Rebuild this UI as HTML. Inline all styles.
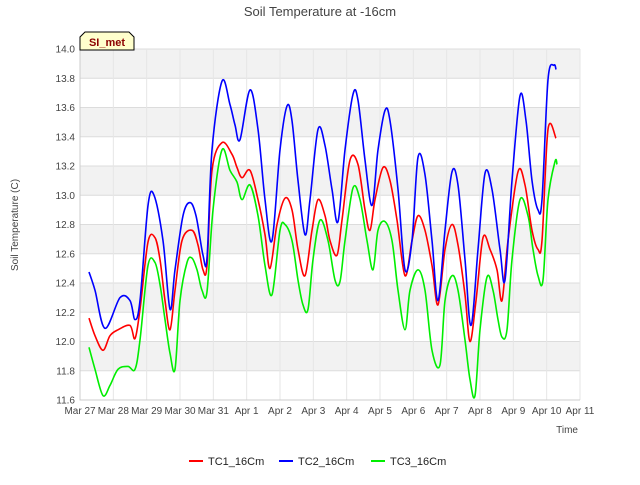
<!DOCTYPE html>
<html><head><meta charset="utf-8"><style>
body{margin:0;background:#fff;font-family:"Liberation Sans",sans-serif}
svg text{font-family:"Liberation Sans",sans-serif}
</style></head><body>
<svg id="c" width="640" height="480" xmlns="http://www.w3.org/2000/svg">
<rect width="640" height="480" fill="#fff"/>
<g id="bands"></g><g id="grid"></g><g id="ticks"></g><g id="series"></g>
<text x="320" y="16" text-anchor="middle" font-size="13" fill="#444">Soil Temperature at -16cm</text>
<text x="18" y="225" text-anchor="middle" font-size="10" fill="#444" transform="rotate(-90 18 225)">Soil Temperature (C)</text>
<text x="578" y="433" text-anchor="end" font-size="10" fill="#444">Time</text>
<g>
<path d="M80,50 L80,37 L85,32 L129,32 L134,37 L134,50 Z" fill="#ffffcc" stroke="#000" stroke-width="1"/>
<text x="107" y="46" text-anchor="middle" font-size="11" font-weight="bold" fill="#8b0000">SI_met</text>
</g>
<g>
<g><line x1="189" y1="461" x2="203" y2="461" stroke="#ff0000" stroke-width="2"/><text x="208" y="465" font-size="11" fill="#222">TC1_16Cm</text></g>
<g><line x1="279" y1="461" x2="293" y2="461" stroke="#0000ff" stroke-width="2"/><text x="298" y="465" font-size="11" fill="#222">TC2_16Cm</text></g>
<g><line x1="371" y1="461" x2="385" y2="461" stroke="#00ee00" stroke-width="2"/><text x="390" y="465" font-size="11" fill="#222">TC3_16Cm</text></g>
</g>
</svg>
<script>
const xTickLabels=["Mar 27","Mar 28","Mar 29","Mar 30","Mar 31","Apr 1","Apr 2","Apr 3","Apr 4","Apr 5","Apr 6","Apr 7","Apr 8","Apr 9","Apr 10","Apr 11"];
const yTicks=[11.6,11.8,12.0,12.2,12.4,12.6,12.8,13.0,13.2,13.4,13.6,13.8,14.0];
const tc2Days=[.27,.45,.75,1.2,1.5,1.65,1.8,2.04,2.22,2.49,2.7,2.85,3.09,3.3,3.48,3.69,3.81,3.96,4.26,4.5,4.65,4.8,5.1,5.34,5.55,5.76,6.0,6.21,6.36,6.54,6.75,6.9,7.14,7.35,7.56,7.74,7.95,8.19,8.34,8.55,8.76,8.94,9.15,9.3,9.54,9.75,9.96,10.14,10.35,10.56,10.74,10.95,11.16,11.34,11.55,11.73,11.94,12.15,12.36,12.6,12.75,12.96,13.2,13.38,13.56,13.74,13.86,14.04,14.22,14.28];
const tc2Vals=[12.475,12.35,12.09,12.30,12.28,12.15,12.28,12.93,13.0,12.69,12.22,12.49,12.86,12.95,12.86,12.59,12.57,13.31,13.78,13.62,13.48,13.38,13.72,13.45,12.97,12.69,13.31,13.61,13.51,13.10,12.73,12.97,13.45,13.34,13.04,12.82,13.31,13.69,13.65,13.24,12.93,13.31,13.58,13.51,13.04,12.49,12.69,13.26,13.14,12.69,12.28,12.76,13.16,13.07,12.56,12.11,12.63,13.15,13.04,12.63,12.42,13.10,13.68,13.51,13.10,12.90,12.97,13.79,13.89,13.86];
const tc1Days=[.27,.45,.69,.9,1.14,1.5,1.65,1.8,2.04,2.25,2.4,2.55,2.7,2.85,3.06,3.36,3.54,3.69,3.81,3.96,4.26,4.56,4.71,4.86,5.1,5.34,5.55,5.7,5.91,6.15,6.36,6.54,6.75,6.96,7.14,7.35,7.5,7.71,7.86,8.1,8.34,8.55,8.7,8.85,9.09,9.3,9.51,9.75,9.96,10.14,10.35,10.56,10.74,10.95,11.16,11.34,11.55,11.7,11.88,12.09,12.3,12.51,12.66,12.84,13.14,13.35,13.56,13.74,13.86,14.04,14.28];
const tc1Vals=[12.16,12.04,11.94,12.04,12.08,12.11,12.02,12.22,12.68,12.71,12.56,12.28,12.08,12.35,12.69,12.76,12.66,12.49,12.52,13.17,13.36,13.28,13.19,13.12,13.17,12.97,12.73,12.50,12.80,12.98,12.90,12.63,12.45,12.76,12.97,12.86,12.69,12.59,12.83,13.24,13.21,12.90,12.76,12.97,13.19,13.10,12.83,12.45,12.69,12.86,12.76,12.52,12.25,12.63,12.80,12.66,12.32,12.0,12.28,12.71,12.63,12.49,12.28,12.69,13.16,13.07,12.76,12.63,12.69,13.45,13.39];
const tc3Days=[.27,.45,.69,.9,1.14,1.44,1.65,1.8,2.04,2.25,2.4,2.55,2.7,2.85,3.0,3.21,3.36,3.51,3.66,3.81,3.99,4.26,4.5,4.71,4.86,5.1,5.34,5.55,5.76,6.0,6.15,6.36,6.54,6.69,6.84,6.99,7.2,7.44,7.65,7.8,7.95,8.19,8.4,8.61,8.79,8.94,9.15,9.36,9.54,9.75,9.9,10.14,10.35,10.56,10.8,10.95,11.16,11.34,11.55,11.7,11.85,12.0,12.21,12.39,12.54,12.66,12.81,12.96,13.2,13.44,13.59,13.74,13.89,14.04,14.25,14.31];
const tc3Vals=[11.96,11.81,11.63,11.70,11.81,11.83,11.81,12.01,12.52,12.54,12.39,12.15,11.92,11.81,12.28,12.54,12.57,12.49,12.35,12.34,12.90,13.31,13.17,13.09,12.97,13.07,12.86,12.52,12.32,12.76,12.80,12.69,12.42,12.25,12.22,12.56,12.83,12.69,12.42,12.41,12.69,13.05,12.97,12.69,12.49,12.76,12.82,12.69,12.35,12.08,12.35,12.49,12.35,11.94,11.84,12.28,12.45,12.35,12.01,11.74,11.63,12.08,12.44,12.35,12.15,12.03,12.08,12.56,12.97,12.86,12.63,12.45,12.42,12.97,13.23,13.21];

const NS="http://www.w3.org/2000/svg";
const X0=80,X1=580,Y0=400,Y1=49;
const xs=d=>X0+(X1-X0)*d/15;
const ys=v=>Y0-(Y0-Y1)*(v-11.6)/2.4;
function mk(tag,attrs,parent){const e=document.createElementNS(NS,tag);for(const k in attrs)e.setAttribute(k,attrs[k]);parent.appendChild(e);return e;}
const bands=document.getElementById('bands'),grid=document.getElementById('grid'),ticks=document.getElementById('ticks'),ser=document.getElementById('series');
for(let i=0;i<yTicks.length-1;i++){
  if(i%2===1){const r=mk('rect',{x:X0,y:ys(yTicks[i+1]),width:X1-X0,height:ys(yTicks[i])-ys(yTicks[i+1]),fill:'#f2f2f2'},bands);
  
  }
}
yTicks.forEach(v=>{
  const l=mk('line',{x1:X0,x2:X1,y1:ys(v),y2:ys(v),stroke:'#dcdcdc','stroke-width':1},grid);
  
  
  const t=mk('text',{x:X0-5,y:ys(v)+3.5,'text-anchor':'end','font-size':10,fill:'#444'},ticks);
  t.textContent=v.toFixed(1);
  
  
});
xTickLabels.forEach((s,i)=>{
  const gl=mk('line',{x1:xs(i),x2:xs(i),y1:Y1,y2:Y0,stroke:'#e6e6e6','stroke-width':1},grid);
  
  
  const t=mk('text',{x:xs(i),y:Y0+14,'text-anchor':'middle','font-size':10,fill:'#444'},ticks);
  t.textContent=s;
  
  
});
const ax=mk('path',{d:`M${X0},${Y1}V${Y0}H${X1}`,fill:'none',stroke:'#ccc'},grid);


function line(days,vals,color,name){
  const P=days.map((x,i)=>[xs(x),ys(vals[i])]);
  let d='M'+P[0][0].toFixed(1)+','+P[0][1].toFixed(1);
  for(let i=0;i<P.length-1;i++){
    const p0=P[Math.max(i-1,0)],p1=P[i],p2=P[i+1],p3=P[Math.min(i+2,P.length-1)];
    const c1=[p1[0]+(p2[0]-p0[0])/6,p1[1]+(p2[1]-p0[1])/6];
    const c2=[p2[0]-(p3[0]-p1[0])/6,p2[1]-(p3[1]-p1[1])/6];
    d+='C'+c1.map(n=>n.toFixed(1)).join(',')+' '+c2.map(n=>n.toFixed(1)).join(',')+' '+p2[0].toFixed(1)+','+p2[1].toFixed(1);
  }
  const p=mk('path',{d:d,fill:'none',stroke:color,'stroke-width':1.6,'stroke-linejoin':'round'},ser);
  
  
}
line(tc3Days,tc3Vals,'#00ee00','tc3-line');
line(tc1Days,tc1Vals,'#ff0000','tc1-line');
line(tc2Days,tc2Vals,'#0000ff','tc2-line');
</script>
</body></html>
